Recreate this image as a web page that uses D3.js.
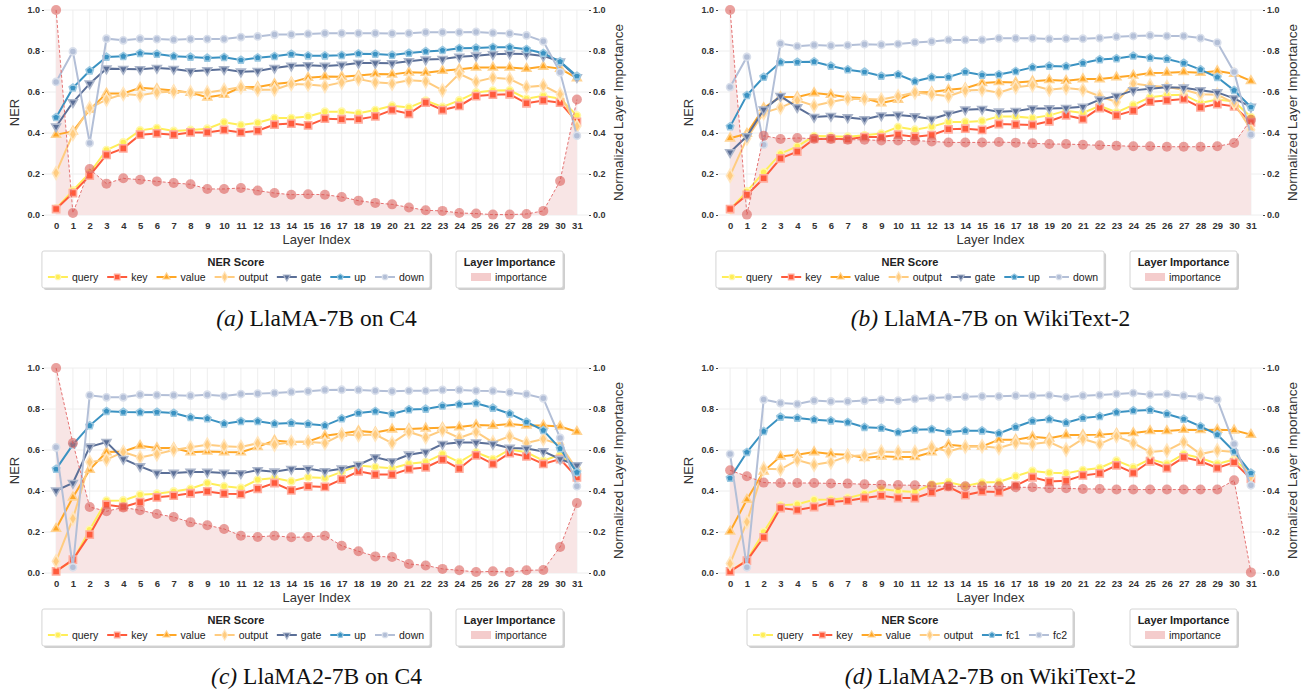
<!DOCTYPE html>
<html>
<head>
<meta charset="utf-8">
<script src="https://cdn.jsdelivr.net/npm/d3@7"></script>
<style>
  body { margin: 0; background: #fff; }
  svg { display: block; font-family: "Liberation Sans", Arial, sans-serif; }
</style>
</head>
<body>
<svg id="fig" width="1310" height="691"></svg>
<script>
// layer indices 0..31
var layers = d3.range(32);
var yTicks = [0, 0.2, 0.4, 0.6, 0.8, 1.0];

// (a) LlaMA-7B on C4
var aQuery  = [0.031,0.12,0.205,0.317,0.354,0.413,0.424,0.41,0.415,0.421,0.452,0.439,0.45,0.473,0.473,0.481,0.504,0.504,0.496,0.512,0.533,0.524,0.558,0.527,0.559,0.598,0.607,0.608,0.567,0.582,0.567,0.485];
var aKey    = [0.029,0.107,0.192,0.293,0.325,0.392,0.398,0.392,0.403,0.403,0.415,0.403,0.411,0.441,0.446,0.437,0.47,0.467,0.467,0.481,0.512,0.494,0.548,0.512,0.532,0.58,0.587,0.589,0.545,0.559,0.548,0.454];
var aValue  = [0.392,0.408,0.514,0.593,0.593,0.621,0.615,0.607,0.597,0.574,0.587,0.623,0.624,0.639,0.647,0.67,0.676,0.675,0.68,0.688,0.686,0.696,0.694,0.704,0.711,0.72,0.72,0.72,0.714,0.724,0.714,0.668];
var aOutput = [0.205,0.395,0.522,0.563,0.59,0.584,0.598,0.602,0.598,0.598,0.61,0.624,0.611,0.611,0.639,0.637,0.629,0.647,0.663,0.647,0.641,0.657,0.652,0.608,0.689,0.65,0.67,0.663,0.624,0.631,0.589,0.433];
var aGate   = [0.431,0.55,0.641,0.714,0.712,0.711,0.717,0.712,0.701,0.706,0.711,0.699,0.702,0.717,0.728,0.73,0.727,0.732,0.741,0.741,0.74,0.75,0.758,0.761,0.772,0.777,0.784,0.787,0.785,0.776,0.748,0.672];
var aUp     = [0.476,0.62,0.704,0.771,0.774,0.789,0.785,0.774,0.771,0.766,0.769,0.756,0.767,0.774,0.785,0.777,0.777,0.779,0.787,0.785,0.78,0.79,0.798,0.803,0.813,0.815,0.818,0.818,0.808,0.789,0.748,0.678];
var aDown   = [0.649,0.798,0.351,0.86,0.852,0.86,0.858,0.855,0.858,0.858,0.858,0.868,0.871,0.88,0.88,0.883,0.886,0.886,0.886,0.886,0.885,0.886,0.891,0.891,0.891,0.893,0.888,0.885,0.876,0.847,0.696,0.387];
var aImp    = [1.0,0.01,0.224,0.153,0.179,0.172,0.164,0.156,0.15,0.127,0.127,0.132,0.119,0.107,0.099,0.101,0.099,0.088,0.07,0.059,0.052,0.037,0.023,0.02,0.01,0.007,0.002,0.002,0.005,0.02,0.166,0.563];

// (b) LlaMA-7B on WikiText-2
var bQuery  = [0.026,0.115,0.208,0.299,0.335,0.385,0.384,0.382,0.389,0.397,0.429,0.416,0.431,0.454,0.454,0.459,0.481,0.48,0.473,0.486,0.509,0.498,0.533,0.501,0.537,0.574,0.584,0.587,0.546,0.563,0.554,0.478];
var bKey    = [0.029,0.098,0.179,0.276,0.309,0.371,0.372,0.369,0.38,0.38,0.392,0.382,0.39,0.418,0.421,0.415,0.444,0.441,0.439,0.457,0.486,0.468,0.522,0.486,0.509,0.553,0.559,0.566,0.525,0.541,0.53,0.452];
var bValue  = [0.374,0.397,0.522,0.576,0.576,0.595,0.587,0.574,0.569,0.546,0.563,0.598,0.6,0.611,0.618,0.644,0.649,0.646,0.652,0.659,0.655,0.663,0.663,0.672,0.681,0.693,0.694,0.698,0.694,0.702,0.689,0.654];
var bOutput = [0.192,0.374,0.498,0.524,0.559,0.533,0.551,0.567,0.566,0.563,0.579,0.598,0.589,0.579,0.607,0.611,0.597,0.623,0.633,0.611,0.62,0.611,0.579,0.551,0.641,0.631,0.624,0.611,0.589,0.587,0.546,0.416];
var bGate   = [0.306,0.384,0.514,0.58,0.525,0.478,0.483,0.476,0.467,0.485,0.488,0.481,0.468,0.493,0.514,0.517,0.504,0.507,0.519,0.52,0.522,0.528,0.563,0.58,0.608,0.616,0.623,0.621,0.608,0.598,0.569,0.527];
var bUp     = [0.431,0.584,0.673,0.745,0.746,0.748,0.727,0.709,0.698,0.678,0.685,0.652,0.672,0.673,0.698,0.683,0.685,0.701,0.72,0.727,0.725,0.741,0.758,0.763,0.776,0.767,0.761,0.741,0.709,0.672,0.608,0.527];
var bDown   = [0.624,0.771,0.343,0.836,0.823,0.829,0.826,0.828,0.833,0.831,0.834,0.842,0.846,0.854,0.854,0.854,0.862,0.862,0.862,0.859,0.86,0.86,0.863,0.87,0.873,0.876,0.873,0.873,0.863,0.841,0.698,0.392];
var bImp    = [1.0,0.002,0.387,0.371,0.376,0.372,0.371,0.367,0.367,0.363,0.363,0.363,0.359,0.354,0.354,0.354,0.356,0.353,0.35,0.346,0.346,0.343,0.34,0.338,0.335,0.335,0.333,0.333,0.333,0.335,0.351,0.465];

// (c) LlaMA2-7B on C4
var cQuery  = [0.011,0.06,0.211,0.353,0.354,0.382,0.387,0.398,0.411,0.439,0.423,0.415,0.455,0.463,0.447,0.467,0.463,0.493,0.524,0.517,0.511,0.533,0.541,0.58,0.541,0.589,0.556,0.602,0.589,0.548,0.577,0.504];
var cKey    = [0.008,0.065,0.187,0.333,0.322,0.346,0.369,0.377,0.389,0.398,0.387,0.385,0.411,0.439,0.403,0.423,0.42,0.457,0.496,0.48,0.48,0.507,0.515,0.553,0.509,0.574,0.532,0.585,0.569,0.532,0.556,0.467];
var cValue  = [0.216,0.369,0.504,0.59,0.593,0.621,0.61,0.61,0.589,0.593,0.59,0.589,0.615,0.646,0.639,0.642,0.67,0.68,0.693,0.686,0.701,0.702,0.706,0.709,0.712,0.722,0.719,0.727,0.72,0.72,0.715,0.689];
var cOutput = [0.057,0.265,0.541,0.553,0.59,0.564,0.58,0.6,0.613,0.626,0.618,0.615,0.633,0.626,0.639,0.639,0.634,0.675,0.672,0.675,0.634,0.688,0.662,0.696,0.659,0.688,0.637,0.667,0.634,0.654,0.626,0.504];
var cGate   = [0.402,0.439,0.616,0.639,0.556,0.52,0.488,0.488,0.493,0.493,0.488,0.486,0.501,0.494,0.507,0.509,0.496,0.509,0.528,0.564,0.545,0.577,0.59,0.629,0.637,0.636,0.629,0.61,0.607,0.593,0.556,0.525];
var cUp     = [0.507,0.626,0.719,0.789,0.785,0.784,0.785,0.78,0.759,0.753,0.728,0.74,0.74,0.728,0.732,0.727,0.719,0.753,0.78,0.789,0.776,0.797,0.8,0.815,0.823,0.828,0.805,0.777,0.737,0.696,0.607,0.491];
var cDown   = [0.613,0.028,0.867,0.857,0.857,0.87,0.868,0.867,0.865,0.87,0.863,0.873,0.875,0.878,0.883,0.886,0.893,0.894,0.893,0.889,0.886,0.889,0.889,0.893,0.893,0.889,0.888,0.881,0.872,0.852,0.659,0.423];
var cImp    = [1.0,0.634,0.322,0.301,0.32,0.306,0.288,0.273,0.247,0.233,0.215,0.182,0.176,0.182,0.174,0.176,0.182,0.133,0.106,0.081,0.078,0.044,0.037,0.02,0.013,0.005,0.008,0.005,0.013,0.015,0.127,0.341];

// (d) LlaMA2-7B on WikiText-2
var dQuery  = [0.011,0.062,0.2,0.33,0.335,0.357,0.358,0.366,0.386,0.41,0.4,0.395,0.432,0.443,0.425,0.441,0.444,0.472,0.498,0.489,0.486,0.502,0.512,0.548,0.515,0.556,0.532,0.58,0.561,0.532,0.554,0.48];
var dKey    = [0.008,0.06,0.174,0.317,0.307,0.322,0.346,0.353,0.366,0.377,0.366,0.366,0.393,0.42,0.38,0.398,0.395,0.426,0.467,0.446,0.45,0.476,0.486,0.525,0.488,0.545,0.512,0.564,0.545,0.512,0.54,0.459];
var dValue  = [0.203,0.358,0.496,0.569,0.577,0.59,0.58,0.577,0.561,0.569,0.566,0.566,0.589,0.626,0.618,0.618,0.65,0.65,0.665,0.657,0.673,0.673,0.675,0.68,0.683,0.693,0.693,0.699,0.698,0.699,0.696,0.675];
var dOutput = [0.046,0.249,0.509,0.506,0.551,0.528,0.541,0.569,0.574,0.592,0.59,0.59,0.613,0.593,0.616,0.618,0.61,0.634,0.629,0.639,0.602,0.654,0.629,0.667,0.634,0.59,0.597,0.639,0.58,0.598,0.59,0.472];
var dFc1    = [0.463,0.589,0.691,0.761,0.756,0.748,0.743,0.735,0.711,0.707,0.686,0.699,0.701,0.688,0.694,0.694,0.681,0.712,0.741,0.75,0.733,0.756,0.764,0.784,0.792,0.795,0.776,0.751,0.715,0.675,0.593,0.488];
var dFc2    = [0.58,0.028,0.846,0.829,0.824,0.841,0.837,0.837,0.841,0.846,0.841,0.849,0.854,0.857,0.86,0.862,0.862,0.865,0.865,0.867,0.857,0.865,0.868,0.873,0.878,0.87,0.872,0.865,0.86,0.846,0.629,0.428];
var dImp    = [0.501,0.472,0.441,0.439,0.439,0.439,0.437,0.436,0.433,0.431,0.429,0.428,0.424,0.423,0.423,0.423,0.423,0.418,0.418,0.413,0.413,0.41,0.41,0.407,0.407,0.407,0.407,0.407,0.407,0.407,0.452,0.003];

// pentagon marker, d3 has none
var symbolPentagon = {
  draw: function(ctx, size) {
    var r = Math.sqrt(size / (2.5 * Math.sin(2 * Math.PI / 5)));
    for (var i = 0; i < 5; i++) {
      var a = -Math.PI / 2 + i * 2 * Math.PI / 5;
      if (i == 0) ctx.moveTo(r * Math.cos(a), r * Math.sin(a));
      else ctx.lineTo(r * Math.cos(a), r * Math.sin(a));
    }
    ctx.closePath();
  }
};

var styles = {
  query:  { color: "#FFEE58", type: d3.symbolCircle,   size: 40, rot: 0 },
  key:    { color: "#FF5A3C", type: d3.symbolSquare,   size: 52, rot: 0 },
  value:  { color: "#FFA726", type: d3.symbolTriangle, size: 34, rot: 0 },
  output: { color: "#FFCC80", type: d3.symbolDiamond,  size: 48, rot: 0 },
  gate:   { color: "#5B6F97", type: d3.symbolTriangle, size: 34, rot: 180 },
  up:     { color: "#3A92C2", type: symbolPentagon,    size: 36, rot: 0 },
  down:   { color: "#B3BFD7", type: d3.symbolCircle,   size: 40, rot: 0 },
  fc1:    { color: "#3A92C2", type: symbolPentagon,    size: 36, rot: 0 },
  fc2:    { color: "#B3BFD7", type: d3.symbolCircle,   size: 40, rot: 0 }
};

var panels = [
  { ox: 0,   oy: 10,  cap: "(a)", title: " LlaMA-7B on C4",
    names: ["query","key","value","output","gate","up","down"],
    values: [aQuery,aKey,aValue,aOutput,aGate,aUp,aDown], imp: aImp },
  { ox: 674, oy: 10,  cap: "(b)", title: " LlaMA-7B on WikiText-2",
    names: ["query","key","value","output","gate","up","down"],
    values: [bQuery,bKey,bValue,bOutput,bGate,bUp,bDown], imp: bImp },
  { ox: 0,   oy: 368, cap: "(c)", title: " LlaMA2-7B on C4",
    names: ["query","key","value","output","gate","up","down"],
    values: [cQuery,cKey,cValue,cOutput,cGate,cUp,cDown], imp: cImp },
  { ox: 674, oy: 368, cap: "(d)", title: " LlaMA2-7B on WikiText-2",
    names: ["query","key","value","output","fc1","fc2"],
    values: [dQuery,dKey,dValue,dOutput,dFc1,dFc2], imp: dImp }
];

var svg = d3.select("#fig");

function lighter(c) { return d3.interpolateRgb(c, "#ffffff")(0.5); }

function marker(sel, st) {
  return sel.append("path")
    .attr("d", d3.symbol().type(st.type).size(st.size))
    .attr("fill", st.color)
    .attr("stroke", lighter(st.color))
    .attr("stroke-width", 1.6);
}

panels.forEach(function(p) {
  var left = 44 + p.ox, right = 589 + p.ox, top = p.oy, bottom = p.oy + 205;
  var g = svg.append("g");

  var x = d3.scaleLinear().domain([-0.72, 31.72]).range([left, right]);
  var y = d3.scaleLinear().domain([0, 1]).range([bottom, top]);

  // grid
  g.append("g").selectAll("line").data(layers).enter().append("line")
    .attr("x1", d => x(d)).attr("x2", d => x(d))
    .attr("y1", top).attr("y2", bottom)
    .attr("stroke", "#eeeeee").attr("stroke-width", 1);
  g.append("g").selectAll("line").data(yTicks).enter().append("line")
    .attr("x1", left).attr("x2", right)
    .attr("y1", d => y(d)).attr("y2", d => y(d))
    .attr("stroke", "#eeeeee").attr("stroke-width", 1);

  // axes
  var xAxis = g.append("g").attr("transform", "translate(0," + bottom + ")")
    .call(d3.axisBottom(x).tickValues(layers).tickSize(0).tickPadding(7).tickFormat(d3.format("d")));
  var yl = g.append("g").attr("transform", "translate(" + left + ",0)")
    .call(d3.axisLeft(y).tickValues(yTicks).tickSize(2).tickPadding(2).tickFormat(d3.format(".1f")));
  var yr = g.append("g").attr("transform", "translate(" + right + ",0)")
    .call(d3.axisRight(y).tickValues(yTicks).tickSize(2).tickPadding(2).tickFormat(d3.format(".1f")));
  [xAxis, yl, yr].forEach(function(ax) {
    ax.select(".domain").remove();
    ax.selectAll(".tick line").attr("stroke", "#444");
    ax.selectAll("text").attr("font-size", "9px").attr("font-weight", "bold")
      .attr("fill", "#333").attr("font-family", "'Liberation Sans', Arial, sans-serif");
  });
  xAxis.selectAll("text").attr("font-size", "9.5px");

  // axis titles
  g.append("text").attr("x", (left + right) / 2).attr("y", bottom + 29)
    .attr("text-anchor", "middle").attr("font-size", "13px").attr("fill", "#333").text("Layer Index");
  g.append("text").attr("transform", "translate(" + (left - 25) + "," + ((top + bottom) / 2) + ") rotate(-90)")
    .attr("text-anchor", "middle").attr("font-size", "13px").attr("fill", "#333").text("NER");
  g.append("text").attr("transform", "translate(" + (right + 34) + "," + ((top + bottom) / 2) + ") rotate(-90)")
    .attr("text-anchor", "middle").attr("font-size", "13.5px").attr("fill", "#333").text("Normalized Layer Importance");

  // importance area under the dashed curve
  var area = d3.area().x((d, i) => x(i)).y0(y(0)).y1(d => y(d));
  g.append("path").datum(p.imp).attr("d", area).attr("fill", "#f8e5e5");

  // NER lines
  var line = d3.line().x((d, i) => x(i)).y(d => y(d));
  p.names.forEach(function(name, k) {
    var st = styles[name];
    var s = g.append("g");
    s.append("path").datum(p.values[k]).attr("d", line)
      .attr("fill", "none").attr("stroke", st.color).attr("stroke-width", 2);
    s.selectAll("g").data(p.values[k]).enter().append("g")
      .attr("transform", (d, i) => "translate(" + x(i) + "," + y(d) + ") rotate(" + st.rot + ")")
      .each(function() { marker(d3.select(this), st); });
  });

  // importance line
  g.append("path").datum(p.imp).attr("d", line)
    .attr("fill", "none").attr("stroke", "#e57373").attr("stroke-width", 1)
    .attr("stroke-dasharray", "3,2");
  g.append("g").selectAll("circle").data(p.imp).enter().append("circle")
    .attr("cx", (d, i) => x(i)).attr("cy", d => y(d)).attr("r", 5)
    .attr("fill", "#d9534f").attr("fill-opacity", 0.55);

  // legends
  var ly = bottom + 36, lh = 37;
  var leg = g.append("g");
  var items = leg.append("g");
  var cx = 0;
  p.names.forEach(function(name) {
    var st = styles[name];
    var it = items.append("g").attr("transform", "translate(" + cx + ",0)");
    it.append("line").attr("x1", 0).attr("x2", 20).attr("stroke", st.color).attr("stroke-width", 2);
    var m = it.append("g").attr("transform", "translate(10,0) rotate(" + st.rot + ")");
    marker(m, { color: st.color, type: st.type, size: st.size * 0.6 }).attr("stroke-width", 1.2);
    var t = it.append("text").attr("x", 24).attr("y", 3.8).attr("font-size", "10.5px").attr("fill", "#222").text(name);
    cx += 24 + t.node().getComputedTextLength() + 9;
  });
  var itemsW = cx - 9;
  var boxW = itemsW + 12, nerCx = 236 + p.ox;
  var bx = nerCx - boxW / 2;
  leg.insert("rect", ":first-child").attr("x", bx).attr("y", ly).attr("width", boxW).attr("height", lh)
    .attr("rx", 2).attr("fill", "#fff").attr("stroke", "#d4d4d4").attr("stroke-width", 1);
  leg.insert("rect", ":first-child").attr("x", bx + 2).attr("y", ly + 2).attr("width", boxW).attr("height", lh)
    .attr("rx", 2).attr("fill", "#cfcfcf");
  items.attr("transform", "translate(" + (bx + 6) + "," + (ly + 26) + ")");
  leg.append("text").attr("x", nerCx).attr("y", ly + 15).attr("text-anchor", "middle")
    .attr("font-size", "11px").attr("font-weight", "bold").attr("fill", "#222").text("NER Score");

  var ibx = 456 + p.ox, ibw = 107;
  leg.append("rect").attr("x", ibx + 2).attr("y", ly + 2).attr("width", ibw).attr("height", lh).attr("rx", 2).attr("fill", "#cfcfcf");
  leg.append("rect").attr("x", ibx).attr("y", ly).attr("width", ibw).attr("height", lh).attr("rx", 2)
    .attr("fill", "#fff").attr("stroke", "#d4d4d4");
  leg.append("text").attr("x", ibx + ibw / 2).attr("y", ly + 15).attr("text-anchor", "middle")
    .attr("font-size", "11px").attr("font-weight", "bold").attr("fill", "#222").text("Layer Importance");
  leg.append("rect").attr("x", ibx + 15).attr("y", ly + 22).attr("width", 20).attr("height", 8).attr("fill", "#f4cccc");
  leg.append("text").attr("x", ibx + 39).attr("y", ly + 29.8).attr("font-size", "10.5px").attr("fill", "#222").text("importance");

  // caption
  var cap = g.append("text").attr("x", (left + right) / 2).attr("y", bottom + 111)
    .attr("text-anchor", "middle").attr("font-family", "'Liberation Serif', 'Times New Roman', serif")
    .attr("font-size", "23.5px").attr("fill", "#111");
  cap.append("tspan").attr("font-style", "italic").text(p.cap);
  cap.append("tspan").text(p.title);
});
</script>
</body>
</html>
